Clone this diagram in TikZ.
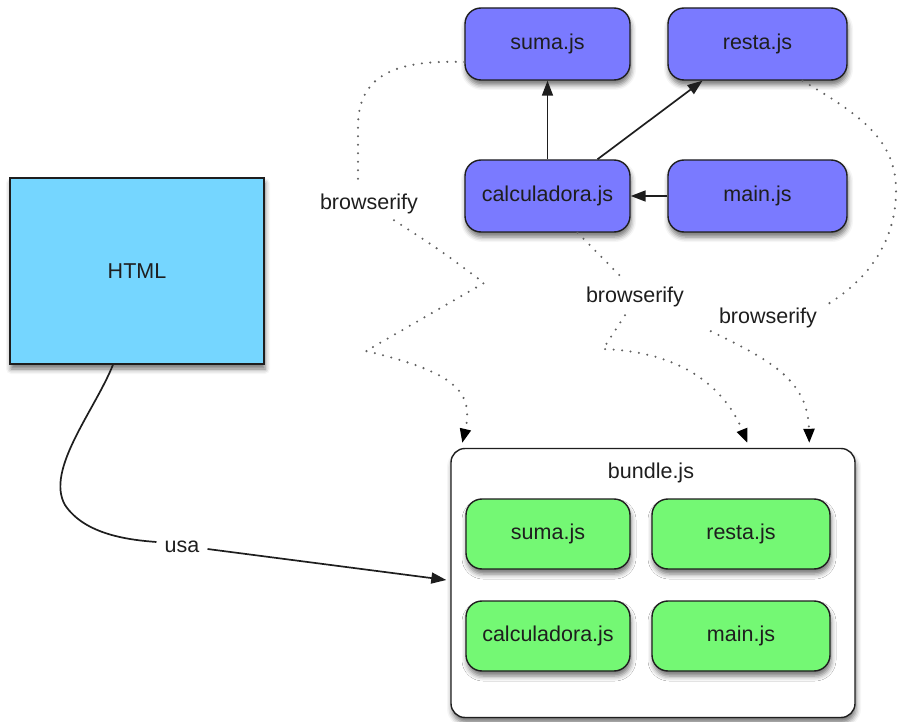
\documentclass[tikz,border=0pt]{standalone}
\usepackage{fontspec}
\setmainfont{Liberation Sans}
\usetikzlibrary{arrows.meta,shadows.blur}

\definecolor{modblue}{RGB}{122,122,255}
\definecolor{htmlblue}{RGB}{117,214,255}
\definecolor{modgreen}{RGB}{116,248,116}
\definecolor{edge}{RGB}{30,30,30}

\tikzset{
  txt/.style={font=\fontsize{21.5}{25}\selectfont, text=edge},
  softshadow/.style={blur shadow={shadow xshift=1pt, shadow yshift=-5pt,
      shadow blur radius=5pt, shadow opacity=55}},
  boxbase/.style={txt, draw=edge, line width=1.4pt, inner sep=0pt, softshadow},
  srcmod/.style={boxbase, fill=modblue, rounded corners=16pt, minimum height=72pt},
  packmod/.style={boxbase, fill=modgreen, rounded corners=16pt, minimum height=70pt},
  page/.style={boxbase, fill=htmlblue, minimum width=254pt, minimum height=186pt},
  bundlebox/.style={boxbase, fill=white, rounded corners=14pt,
      minimum width=404pt, minimum height=269pt},
  tag/.style={txt, inner sep=0pt},
  dep/.style={draw=edge, line width=1.7pt, -{Triangle[length=15pt,width=11pt]}},
  flow/.style={draw=black!62, line width=2.3pt, line cap=round,
      dash pattern=on 0pt off 8.5pt,
      -{Triangle[length=14pt,width=11pt,color=black]}}
}

\begin{document}
\begin{tikzpicture}[x=1pt,y=-1pt]
\useasboundingbox (0,0) rectangle (898,722);

% the page that loads the bundle
\node[page] (html) at (137,271) {HTML};

% CommonJS source modules
\node[srcmod, minimum width=165pt] (suma)  at (547.5,44)  {suma.js};
\node[srcmod, minimum width=179pt] (resta) at (757.5,44)  {resta.js};
\node[srcmod, minimum width=165pt] (calc)  at (547.5,196) {calculadora.js};
\node[srcmod, minimum width=179pt] (main)  at (757.5,196) {main.js};

% the generated bundle with its packed modules
\node[bundlebox] (bundle) at (653,583) {};
\node[tag] (btitle) at (651,473) {bundle.js};
\node[packmod, minimum width=164pt] (bsuma)  at (548,534) {suma.js};
\node[packmod, minimum width=178pt] (bresta) at (741,534) {resta.js};
\node[packmod, minimum width=164pt] (bcalc)  at (548,636) {calculadora.js};
\node[packmod, minimum width=178pt] (bmain)  at (741,636) {main.js};

% labels on the connectors
\node[tag] (lab1) at (369,204) {browserify};
\node[tag] (lab2) at (635,297) {browserify};
\node[tag] (lab3) at (768,318) {browserify};
\node[tag] (usa)  at (182,547) {usa};

% require() dependencies
\draw[dep] (calc.north) -- (suma.south);
\draw[dep] ([xshift=50pt]calc.north) -- ([xshift=-55pt]resta.south);
\draw[dep] (main.west) -- (calc.east);

% browserify flows into the bundle
\draw[flow] ([yshift=-18pt]suma.west) .. controls (400,60) and (359,72) .. (358,125)
    -- ([xshift=-11pt,yshift=14pt]lab1.north)
  ([xshift=25pt,yshift=-6pt]lab1.south) .. controls (440,250) .. (484,283)
    -- (366,351) .. controls (455,372) and (474,392) .. ([xshift=12pt,yshift=5pt]bundle.north west);

\draw[flow] ([xshift=30pt]calc.south) -- ([xshift=-12pt,yshift=8pt]lab2.north)
  ([xshift=-10pt,yshift=-8pt]lab2.south) -- (603,349)
    .. controls (690,352) and (728,395) .. ([xshift=297pt,yshift=5pt]bundle.north west);

\draw[flow] ([xshift=45pt]resta.south) .. controls (860,115) and (898,140) .. (896,195)
    .. controls (894,250) and (860,285) .. ([xshift=8pt,yshift=2pt]lab3.north east)
  ([xshift=-8pt,yshift=-3pt]lab3.south west) .. controls (770,360) and (808,380)
    .. ([xshift=359pt,yshift=5pt]bundle.north west);

% the page uses the bundle
\draw[dep] ([xshift=-24pt]html.south) .. controls (95,410) and (45,470) .. (65,505)
    .. controls (85,535) and (130,540) .. ([xshift=-8pt,yshift=5pt]usa.west)
  ([xshift=8pt,yshift=-2pt]usa.east) -- ([xshift=-4pt,yshift=3pt]bundle.west);
\end{tikzpicture}
\end{document}
